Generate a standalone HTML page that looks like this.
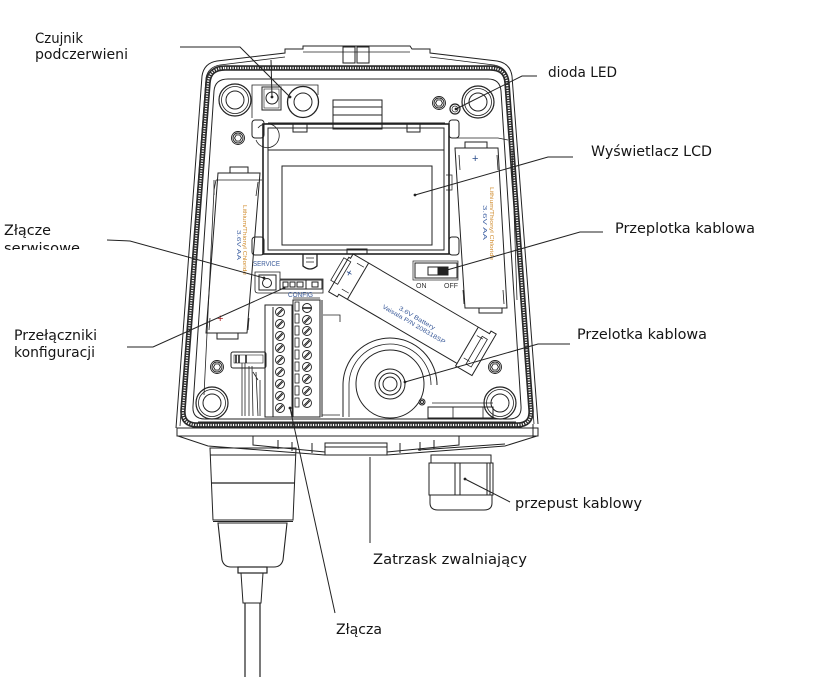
<!DOCTYPE html>
<html><head><meta charset="utf-8"><style>
html,body{margin:0;padding:0;background:#fff;}
svg{display:block;}
.lb{font-family:"DejaVu Sans","Liberation Sans",sans-serif;font-size:14.5px;fill:#151515;}
.sm{font-family:"Liberation Sans",sans-serif;font-size:7px;fill:#3b5b9a;}
.or{font-family:"Liberation Sans",sans-serif;font-size:5px;fill:#d08a2a;}
</style></head><body>
<svg width="829" height="677" viewBox="0 0 829 677" xmlns="http://www.w3.org/2000/svg">
<rect width="829" height="677" fill="#fff"/>
<defs>
  <g id="hex" fill="none" stroke="#222" stroke-width="0.9">
    <circle r="6.5"/><circle r="5"/>
    <polygon points="3.5,0 1.75,3.03 -1.75,3.03 -3.5,0 -1.75,-3.03 1.75,-3.03"/>
  </g>
  <g id="boss" fill="none" stroke="#222">
    <circle r="16" stroke-width="1.2"/><circle r="13.5" stroke-width="0.8"/><circle r="9" stroke-width="1"/>
  </g>
  <g id="ts" fill="none" stroke="#222" stroke-width="0.9">
    <circle r="4.5"/><line x1="-3" y1="2.2" x2="2.2" y2="-3"/><line x1="-2.2" y1="3" x2="3" y2="-2.2"/>
  </g>
</defs>

<g fill="none" stroke="#222" stroke-width="1">
  <!-- housing outer -->
  <path d="M176,428 L202,76 Q204,63 217,61 L285,53 L285,49 L303,49 L303,46 L410,46 L412,49 L430,49 L430,53 L497,61 Q510,63 512,76 L538,424"/>
  <path d="M180,426 L206,78 Q208,67 220,65 L285,57 M430,57 L494,65 Q506,67 508,78 L534,424" stroke-width="0.8"/>
  <!-- top tabs -->
  <rect x="343" y="47" width="12" height="16"/>
  <rect x="357" y="47" width="12" height="16"/>
  <line x1="303" y1="52" x2="410" y2="52" stroke-width="0.7"/>
  <!-- gasket band (hatched) -->
  <path d="M225,68 L490,68 Q506,68 507,83 L531,410 Q532,425 517,425 L197,425 Q182,425 183,410 L208,83 Q209,68 225,68 Z" stroke="#2a2a2a" stroke-width="5.5"/>
  <path d="M225,68 L490,68 Q506,68 507,83 L531,410 Q532,425 517,425 L197,425 Q182,425 183,410 L208,83 Q209,68 225,68 Z" stroke="#fff" stroke-width="2.2" stroke-dasharray="1.2,1.3"/>
  <!-- plate -->
  <path d="M228,79 L488,79 Q500,79 501,91 L521,406 Q522,419 509,419 L205,419 Q192,419 193,406 L214,91 Q215,79 228,79 Z"/>
  <line x1="198" y1="422" x2="516" y2="422"/>
  <!-- inner steps -->
  <path d="M216,180 L262,180 M214,190 L204,395 M216,180 L214,190" stroke-width="0.8"/>
  <path d="M455,138 L498,138 L508,140 M512,150 L517,300" stroke-width="0.8"/>
  <!-- flange -->
  <rect x="177" y="428" width="361" height="8"/>
  <path d="M178,436 L208,446 L325,455"/>
  <path d="M537,436 L505,446 L387,455"/>
  <path d="M253,436 L253,445 L325,452 M278,440 L278,449 M292,442 L292,451 M312,443 L312,453"/>
  <path d="M459,436 L459,445 L387,452 M434,440 L434,449 M420,442 L420,451 M400,443 L400,453"/>
  <rect x="325" y="443" width="62" height="12"/>
  <line x1="325" y1="447" x2="387" y2="447"/>
  <path d="M533,424 L533,437"/>

  <!-- left gland -->
  <path d="M210,448 L296,448 L293,520 L213,520 Z"/>
  <line x1="210" y1="455" x2="296" y2="455"/>
  <line x1="211" y1="483" x2="295" y2="483" stroke-width="1.3"/>
  <path d="M218,523 L287,523 L283,560 Q281,567 274,567 L231,567 Q224,567 222,560 Z" stroke-width="1.1"/>
  <line x1="213" y1="521.5" x2="293" y2="521.5"/>
  <rect x="238" y="567" width="29" height="6" stroke-width="1.2"/>
  <path d="M241,573 L243,603 L261,603 L263,573"/>
  <path d="M245,603 L245,677 M260,603 L260,677" stroke-width="1.2"/>

  <!-- right gland -->
  <path d="M418,450 L505,444"/>
  <rect x="431" y="455" width="60" height="8"/>
  <rect x="429" y="463" width="64" height="32"/>
  <path d="M430,495 L430,503 Q430,510 438,510 L484,510 Q492,510 492,503 L492,495"/>
  <path d="M455,463 L455,495 M460,463 L460,495 M487,463 L487,495 M490,463 L490,495"/>

  <!-- bosses -->
  <use href="#boss" x="235" y="100"/>
  <use href="#boss" x="478" y="102"/>
  <use href="#boss" x="212" y="403"/>
  <use href="#boss" x="500" y="403"/>
  <!-- hex screws -->
  <use href="#hex" x="238" y="138"/>
  <use href="#hex" x="439" y="103"/>
  <use href="#hex" x="217" y="367"/>
  <use href="#hex" x="495" y="367"/>

  <!-- IR sensor -->
  <path d="M252,118 L252,85 L318,85 L318,95" stroke-width="0.8"/>
  <rect x="262" y="87" width="19" height="23"/>
  <rect x="264" y="89" width="15" height="19" stroke-width="0.6"/>
  <circle cx="272" cy="98" r="6"/>
  <circle cx="303" cy="102" r="15.5" stroke-width="1.3"/>
  <circle cx="303" cy="102" r="9"/>
  <!-- LED -->
  <circle cx="455" cy="109" r="5" stroke-width="1.2"/>
  <circle cx="455" cy="109" r="3" stroke-width="0.7"/>

  <!-- top block -->
  <rect x="333" y="100" width="49" height="29"/>
  <path d="M333,107 L382,107 M333,115 L382,115 M333,123 L382,123"/>
  <path d="M268,123 L333,123 M382,123 L445,123"/>

  <!-- LCD -->
  <path d="M258,128 A12,12 0 1 1 256,140" stroke-width="0.8"/>
  <rect x="263" y="124" width="186" height="130" stroke-width="1.6"/>
  <rect x="268" y="128" width="176" height="122"/>
  <line x1="268" y1="150" x2="444" y2="150"/>
  <rect x="282" y="166" width="150" height="79"/>
  <rect x="293" y="123" width="14" height="9"/>
  <rect x="407" y="123" width="13" height="9"/>
  <rect x="347" y="249" width="20" height="5"/>
  <rect x="252" y="120" width="12" height="18" rx="3"/>
  <rect x="449" y="120" width="10" height="18" rx="3"/>
  <rect x="252" y="237" width="12" height="18" rx="3"/>
  <rect x="449" y="237" width="10" height="18" rx="3"/>
  <path d="M449,150 L449,240 M446,175 L452,175 L452,190 L446,190" stroke-width="0.7"/>
  <!-- connector under lcd -->
  <path d="M303,254 L303,266 Q310,272 317,266 L317,254" stroke-width="1.3"/>
  <path d="M306,258 L314,258 M306,262 L314,262" stroke-width="0.8"/>

  <!-- left battery -->
  <path d="M218,173 L260,173 L247,333 L206,333 Z"/>
  <rect x="230" y="167" width="18" height="6"/>
  <rect x="217" y="333" width="21" height="6"/>
  <path d="M214,180 L214,195 M258,182 L256,196 M210,318 L209,330 M249,318 L248,330" stroke-width="0.8"/>
  <!-- right battery -->
  <path d="M455,148 L498,148 L507,308 L465,308 Z"/>
  <rect x="465" y="142" width="22" height="6"/>
  <rect x="479" y="308" width="23" height="5"/>
  <path d="M459,155 L460,170 M497,155 L498,170 M463,290 L464,304 M503,290 L504,304" stroke-width="0.8"/>

  <!-- switch -->
  <rect x="413" y="261" width="45" height="19" stroke-width="0.7"/>
  <rect x="415" y="263" width="42" height="15"/>
  <rect x="428" y="267" width="20" height="8"/>
  <rect x="438" y="267" width="10" height="8" fill="#222"/>

  <!-- service / config -->
  <path d="M255,272 L280,272 L280,279 L323,279 L323,293 L258,293 Q255,293 255,290 Z" stroke-width="0.8"/>
  <rect x="259" y="275" width="17" height="15"/>
  <circle cx="267" cy="283" r="4.5"/>
  <rect x="280" y="280" width="42" height="9"/>
  <rect x="283" y="282" width="5" height="5"/>
  <rect x="290" y="282" width="5" height="5"/>
  <rect x="297" y="282" width="6" height="5"/>
  <rect x="312" y="282" width="6" height="5"/>
  <line x1="306" y1="280" x2="306" y2="289"/>

  <!-- terminal blocks -->
  <rect x="265" y="305" width="27" height="112"/>
  <line x1="273" y1="307" x2="273" y2="417"/>
  <rect x="293" y="300" width="27" height="117"/>
  <line x1="322" y1="300" x2="322" y2="417"/>
  <path d="M320,298 L293,298 M323,315 L340,315 L340,322 M322,415 L340,415" stroke-width="0.8"/>
  <g stroke-width="0.8">
    <rect x="295" y="302" width="4" height="9"/><rect x="295" y="314" width="4" height="9"/><rect x="295" y="326" width="4" height="9"/>
    <rect x="295" y="338" width="4" height="9"/><rect x="295" y="350" width="4" height="9"/><rect x="295" y="362" width="4" height="9"/>
    <rect x="295" y="374" width="4" height="9"/><rect x="295" y="386" width="4" height="9"/><rect x="295" y="398" width="4" height="9"/>
  </g>
  <use href="#ts" x="280" y="312"/><use href="#ts" x="280" y="324"/><use href="#ts" x="280" y="336"/>
  <use href="#ts" x="280" y="348"/><use href="#ts" x="280" y="360"/><use href="#ts" x="280" y="372"/>
  <use href="#ts" x="280" y="384"/><use href="#ts" x="280" y="396"/><use href="#ts" x="280" y="408"/>
  <circle cx="307" cy="308" r="4.5"/><line x1="303" y1="308" x2="311" y2="308" stroke-width="1.6"/>
  <use href="#ts" x="307" y="320"/><use href="#ts" x="307" y="331"/><use href="#ts" x="307" y="343"/>
  <use href="#ts" x="307" y="355"/><use href="#ts" x="307" y="367"/><use href="#ts" x="307" y="379"/>
  <use href="#ts" x="307" y="391"/><use href="#ts" x="307" y="403"/>

  <!-- small connector and wires -->
  <rect x="231" y="352" width="35" height="16" rx="2"/>
  <rect x="234" y="355" width="29" height="8" stroke-width="0.6"/>
  <path d="M236,355 L236,363 M239,355 L239,363 M246,355 L246,363" stroke-width="1.6"/>
  <path d="M242,363 L242,416 M245,363 L245,416 M249,366 L249,416 M252,366 L253,416 M256,372 L258,416 M260,380 L260,416 M253,372 L258,380" stroke-width="0.8"/>

  <!-- 3.6V battery -->
  <g transform="translate(360,258) rotate(30.3)">
    <path d="M-8,0 L137,0 L150,0 L150,-3 L156,-3 L156,45 L137,45 L137,42 L0,42 L0,45 L-10,45 L-10,5 L-8,5 Z"/>
    <line x1="10" y1="0" x2="10" y2="42"/>
    <line x1="137" y1="0" x2="137" y2="42"/>
    <rect x="-14" y="8" width="8" height="26" stroke-width="0.8"/>
    <rect x="145" y="6" width="6" height="32" stroke-width="0.8"/>
    <path d="M0,6 L8,6 M0,36 L8,36 M140,8 L147,8 M140,34 L147,34" stroke-width="0.7"/>
  </g>

  <!-- fan -->
  <path d="M343,417 L343,385 A47,47 0 0 1 437,385" />
  <path d="M349,417 L349,385 A41,41 0 0 1 431,385" stroke-width="0.8"/>
  <circle cx="390" cy="384" r="34"/>
  <circle cx="390" cy="384" r="15"/>
  <circle cx="390" cy="384" r="11"/>
  <circle cx="390" cy="384" r="7"/>
  <circle cx="422" cy="402" r="3"/><circle cx="422" cy="402" r="1.5"/>
  <rect x="428" y="407" width="65" height="11"/>
  <path d="M453,407 L453,418 M483,407 L483,418 M432,403 L493,403" stroke-width="0.8"/>
</g>

<!-- small coloured text -->
<text class="sm" x="253" y="266" textLength="27" lengthAdjust="spacingAndGlyphs">SERVICE</text>
<text class="sm" x="288" y="297" textLength="25" lengthAdjust="spacingAndGlyphs">CONFIG</text>
<text class="sm" x="416" y="288" style="fill:#333">ON</text>
<text class="sm" x="444" y="288" style="fill:#333">OFF</text>
<g transform="translate(360,258) rotate(30.3)">
  <text class="sm" x="59" y="25" textLength="41" lengthAdjust="spacingAndGlyphs" style="font-size:6px">3.6V Battery</text>
  <text class="sm" x="44" y="32" textLength="72" lengthAdjust="spacingAndGlyphs" style="font-size:6px">Vaisala P/N 208318SP</text>
  <text x="-5" y="22" font-family="Liberation Sans,sans-serif" font-size="11" fill="#2a4c8a">+</text>
</g>
<text x="217" y="322" font-family="Liberation Sans,sans-serif" font-size="11" fill="#a22">+</text>
<text x="472" y="162" font-family="Liberation Sans,sans-serif" font-size="11" fill="#2a4c8a">+</text>
<g transform="translate(243,205) rotate(90)">
  <text class="or" x="0" y="0" textLength="70" lengthAdjust="spacingAndGlyphs">Lithium/Thionyl Chloride</text>
</g>
<g transform="translate(237,230) rotate(90)">
  <text class="or" x="0" y="0" textLength="30" lengthAdjust="spacingAndGlyphs" style="fill:#4a6aa8">3.6V AA</text>
</g>
<g transform="translate(490,187) rotate(90)">
  <text class="or" x="0" y="0" textLength="73" lengthAdjust="spacingAndGlyphs">Lithium/Thionyl Chloride</text>
</g>
<g transform="translate(483,205) rotate(90)">
  <text class="or" x="0" y="0" textLength="35" lengthAdjust="spacingAndGlyphs" style="fill:#4a6aa8">3.6V AA</text>
</g>

<!-- leader lines -->
<g fill="none" stroke="#222" stroke-width="1">
  <polyline points="180,47 240,47 290,97"/>
  <line x1="271" y1="60" x2="272" y2="97"/>
  <polyline points="537,76 522,76 456,109"/>
  <polyline points="573,157 548,157 415,195"/>
  <polyline points="603,232 580,232 447,270"/>
  <polyline points="570,344 538,344 405,382"/>
  <line x1="510" y1="502" x2="465" y2="479"/>
  <line x1="370" y1="457" x2="370" y2="543"/>
  <line x1="290" y1="408" x2="335" y2="613"/>
  <polyline points="107,240 130,241 264,278"/>
  <polyline points="127,347 153,347 284,288"/>
</g>
<g fill="#222">
  <circle cx="290" cy="97" r="1.4"/><circle cx="272" cy="97" r="1.4"/>
  <circle cx="456" cy="109" r="1.4"/><circle cx="415" cy="195" r="1.4"/>
  <circle cx="447" cy="270" r="1.4"/><circle cx="405" cy="382" r="1.4"/>
  <circle cx="465" cy="479" r="1.4"/><circle cx="290" cy="408" r="1.4"/>
  <circle cx="264" cy="278" r="1.4"/><circle cx="284" cy="288" r="1.4"/>
</g>

<!-- labels -->
<text class="lb" x="35" y="43" textLength="48" lengthAdjust="spacingAndGlyphs">Czujnik</text>
<text class="lb" x="35" y="59" textLength="93" lengthAdjust="spacingAndGlyphs">podczerwieni</text>
<text class="lb" x="548" y="77" textLength="69" lengthAdjust="spacingAndGlyphs">dioda LED</text>
<text class="lb" x="591" y="156" textLength="121" lengthAdjust="spacingAndGlyphs">Wyświetlacz LCD</text>
<text class="lb" x="615" y="233" textLength="140" lengthAdjust="spacingAndGlyphs">Przeplotka kablowa</text>
<text class="lb" x="4" y="235" textLength="47" lengthAdjust="spacingAndGlyphs">Złącze</text>
<text class="lb" x="4" y="253" textLength="76" lengthAdjust="spacingAndGlyphs">serwisowe</text>
<rect x="0" y="250" width="90" height="8" fill="#fff"/>
<text class="lb" x="14" y="340" textLength="83" lengthAdjust="spacingAndGlyphs">Przełączniki</text>
<text class="lb" x="14" y="357" textLength="81" lengthAdjust="spacingAndGlyphs">konfiguracji</text>
<text class="lb" x="577" y="339" textLength="130" lengthAdjust="spacingAndGlyphs">Przelotka kablowa</text>
<text class="lb" x="515" y="508" textLength="127" lengthAdjust="spacingAndGlyphs">przepust kablowy</text>
<text class="lb" x="373" y="564" textLength="154" lengthAdjust="spacingAndGlyphs">Zatrzask zwalniający</text>
<text class="lb" x="336" y="634" textLength="46" lengthAdjust="spacingAndGlyphs">Złącza</text>
</svg>
</body></html>
